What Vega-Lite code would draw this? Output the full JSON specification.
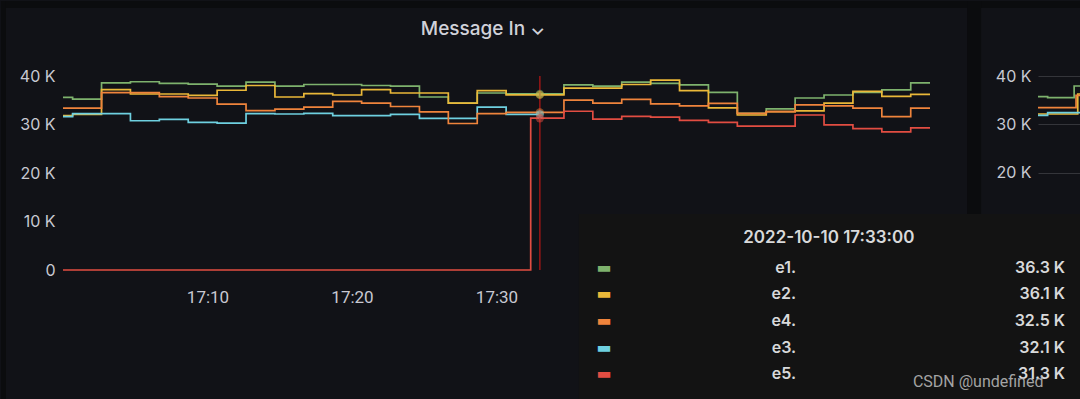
{
  "$schema": "https://vega.github.io/schema/vega-lite/v6.json",
  "autosize": {"type": "pad"},
  "padding": 0,
  "background": "#111217",
  "bounds": "flush",
  "spacing": 108,
  "config": {
    "view": {"stroke": null},
    "axis": {"labelFont": "Inter", "labelColor": "#c8c9d2", "labelFontSize": 16, "gridColor": "#34353a", "gridWidth": 1, "domain": false, "ticks": false, "title": null, "zindex": 0}
  },
  "datasets": {
    "series": [
      {"t": "2022-10-10T17:00:00", "s": "e1", "v": 35600},
      {"t": "2022-10-10T17:00:40", "s": "e1", "v": 35250},
      {"t": "2022-10-10T17:02:40", "s": "e1", "v": 38600},
      {"t": "2022-10-10T17:04:40", "s": "e1", "v": 38810},
      {"t": "2022-10-10T17:06:40", "s": "e1", "v": 38460},
      {"t": "2022-10-10T17:08:40", "s": "e1", "v": 38320},
      {"t": "2022-10-10T17:10:40", "s": "e1", "v": 37900},
      {"t": "2022-10-10T17:12:40", "s": "e1", "v": 38740},
      {"t": "2022-10-10T17:14:40", "s": "e1", "v": 37900},
      {"t": "2022-10-10T17:16:40", "s": "e1", "v": 38250},
      {"t": "2022-10-10T17:18:40", "s": "e1", "v": 38250},
      {"t": "2022-10-10T17:20:40", "s": "e1", "v": 38040},
      {"t": "2022-10-10T17:22:40", "s": "e1", "v": 37900},
      {"t": "2022-10-10T17:24:40", "s": "e1", "v": 35670},
      {"t": "2022-10-10T17:26:40", "s": "e1", "v": 34410},
      {"t": "2022-10-10T17:28:40", "s": "e1", "v": 36500},
      {"t": "2022-10-10T17:30:40", "s": "e1", "v": 36300},
      {"t": "2022-10-10T17:32:40", "s": "e1", "v": 36300},
      {"t": "2022-10-10T17:34:40", "s": "e1", "v": 38180},
      {"t": "2022-10-10T17:36:40", "s": "e1", "v": 37900},
      {"t": "2022-10-10T17:38:40", "s": "e1", "v": 38740},
      {"t": "2022-10-10T17:40:40", "s": "e1", "v": 38460},
      {"t": "2022-10-10T17:42:40", "s": "e1", "v": 38180},
      {"t": "2022-10-10T17:44:40", "s": "e1", "v": 36640},
      {"t": "2022-10-10T17:46:40", "s": "e1", "v": 32310},
      {"t": "2022-10-10T17:48:40", "s": "e1", "v": 33220},
      {"t": "2022-10-10T17:50:40", "s": "e1", "v": 35460},
      {"t": "2022-10-10T17:52:40", "s": "e1", "v": 36080},
      {"t": "2022-10-10T17:54:40", "s": "e1", "v": 36640},
      {"t": "2022-10-10T17:56:40", "s": "e1", "v": 37130},
      {"t": "2022-10-10T17:58:40", "s": "e1", "v": 38600},
      {"t": "2022-10-10T18:00:00", "s": "e1", "v": 38600},

      {"t": "2022-10-10T17:00:00", "s": "e2", "v": 31820},
      {"t": "2022-10-10T17:00:40", "s": "e2", "v": 32100},
      {"t": "2022-10-10T17:02:40", "s": "e2", "v": 37200},
      {"t": "2022-10-10T17:04:40", "s": "e2", "v": 36290},
      {"t": "2022-10-10T17:06:40", "s": "e2", "v": 36290},
      {"t": "2022-10-10T17:08:40", "s": "e2", "v": 36010},
      {"t": "2022-10-10T17:10:40", "s": "e2", "v": 37060},
      {"t": "2022-10-10T17:12:40", "s": "e2", "v": 38040},
      {"t": "2022-10-10T17:14:40", "s": "e2", "v": 35670},
      {"t": "2022-10-10T17:16:40", "s": "e2", "v": 36360},
      {"t": "2022-10-10T17:18:40", "s": "e2", "v": 36080},
      {"t": "2022-10-10T17:20:40", "s": "e2", "v": 37200},
      {"t": "2022-10-10T17:22:40", "s": "e2", "v": 36500},
      {"t": "2022-10-10T17:24:40", "s": "e2", "v": 36500},
      {"t": "2022-10-10T17:26:40", "s": "e2", "v": 34410},
      {"t": "2022-10-10T17:28:40", "s": "e2", "v": 36990},
      {"t": "2022-10-10T17:30:40", "s": "e2", "v": 36100},
      {"t": "2022-10-10T17:32:40", "s": "e2", "v": 36100},
      {"t": "2022-10-10T17:34:40", "s": "e2", "v": 37480},
      {"t": "2022-10-10T17:36:40", "s": "e2", "v": 37480},
      {"t": "2022-10-10T17:38:40", "s": "e2", "v": 38250},
      {"t": "2022-10-10T17:40:40", "s": "e2", "v": 39160},
      {"t": "2022-10-10T17:42:40", "s": "e2", "v": 36990},
      {"t": "2022-10-10T17:44:40", "s": "e2", "v": 33430},
      {"t": "2022-10-10T17:46:40", "s": "e2", "v": 31960},
      {"t": "2022-10-10T17:48:40", "s": "e2", "v": 32660},
      {"t": "2022-10-10T17:50:40", "s": "e2", "v": 32800},
      {"t": "2022-10-10T17:52:40", "s": "e2", "v": 34410},
      {"t": "2022-10-10T17:54:40", "s": "e2", "v": 36850},
      {"t": "2022-10-10T17:56:40", "s": "e2", "v": 35810},
      {"t": "2022-10-10T17:58:40", "s": "e2", "v": 36220},
      {"t": "2022-10-10T18:00:00", "s": "e2", "v": 36220},

      {"t": "2022-10-10T17:00:00", "s": "e3", "v": 31610},
      {"t": "2022-10-10T17:00:40", "s": "e3", "v": 32240},
      {"t": "2022-10-10T17:02:40", "s": "e3", "v": 32240},
      {"t": "2022-10-10T17:04:40", "s": "e3", "v": 30770},
      {"t": "2022-10-10T17:06:40", "s": "e3", "v": 31050},
      {"t": "2022-10-10T17:08:40", "s": "e3", "v": 30420},
      {"t": "2022-10-10T17:10:40", "s": "e3", "v": 30280},
      {"t": "2022-10-10T17:12:40", "s": "e3", "v": 32240},
      {"t": "2022-10-10T17:14:40", "s": "e3", "v": 32170},
      {"t": "2022-10-10T17:16:40", "s": "e3", "v": 32310},
      {"t": "2022-10-10T17:18:40", "s": "e3", "v": 31820},
      {"t": "2022-10-10T17:20:40", "s": "e3", "v": 31820},
      {"t": "2022-10-10T17:22:40", "s": "e3", "v": 32100},
      {"t": "2022-10-10T17:24:40", "s": "e3", "v": 31260},
      {"t": "2022-10-10T17:26:40", "s": "e3", "v": 31260},
      {"t": "2022-10-10T17:28:40", "s": "e3", "v": 33570},
      {"t": "2022-10-10T17:30:40", "s": "e3", "v": 32100},
      {"t": "2022-10-10T17:33:00", "s": "e3", "v": 32100},

      {"t": "2022-10-10T17:00:00", "s": "e4", "v": 33360},
      {"t": "2022-10-10T17:00:40", "s": "e4", "v": 33360},
      {"t": "2022-10-10T17:02:40", "s": "e4", "v": 36570},
      {"t": "2022-10-10T17:04:40", "s": "e4", "v": 36570},
      {"t": "2022-10-10T17:06:40", "s": "e4", "v": 35740},
      {"t": "2022-10-10T17:08:40", "s": "e4", "v": 35460},
      {"t": "2022-10-10T17:10:40", "s": "e4", "v": 34200},
      {"t": "2022-10-10T17:12:40", "s": "e4", "v": 32870},
      {"t": "2022-10-10T17:14:40", "s": "e4", "v": 33150},
      {"t": "2022-10-10T17:16:40", "s": "e4", "v": 33570},
      {"t": "2022-10-10T17:18:40", "s": "e4", "v": 34760},
      {"t": "2022-10-10T17:20:40", "s": "e4", "v": 34410},
      {"t": "2022-10-10T17:22:40", "s": "e4", "v": 33710},
      {"t": "2022-10-10T17:24:40", "s": "e4", "v": 32590},
      {"t": "2022-10-10T17:26:40", "s": "e4", "v": 30210},
      {"t": "2022-10-10T17:28:40", "s": "e4", "v": 32240},
      {"t": "2022-10-10T17:30:40", "s": "e4", "v": 32500},
      {"t": "2022-10-10T17:32:40", "s": "e4", "v": 32500},
      {"t": "2022-10-10T17:34:40", "s": "e4", "v": 35040},
      {"t": "2022-10-10T17:36:40", "s": "e4", "v": 34410},
      {"t": "2022-10-10T17:38:40", "s": "e4", "v": 35180},
      {"t": "2022-10-10T17:40:40", "s": "e4", "v": 34270},
      {"t": "2022-10-10T17:42:40", "s": "e4", "v": 33850},
      {"t": "2022-10-10T17:44:40", "s": "e4", "v": 34340},
      {"t": "2022-10-10T17:46:40", "s": "e4", "v": 32310},
      {"t": "2022-10-10T17:48:40", "s": "e4", "v": 32660},
      {"t": "2022-10-10T17:50:40", "s": "e4", "v": 34060},
      {"t": "2022-10-10T17:52:40", "s": "e4", "v": 33850},
      {"t": "2022-10-10T17:54:40", "s": "e4", "v": 33360},
      {"t": "2022-10-10T17:56:40", "s": "e4", "v": 31610},
      {"t": "2022-10-10T17:58:40", "s": "e4", "v": 33360},
      {"t": "2022-10-10T18:00:00", "s": "e4", "v": 33360},

      {"t": "2022-10-10T17:00:00", "s": "e5", "v": 0},
      {"t": "2022-10-10T17:32:22", "s": "e5", "v": 31300},
      {"t": "2022-10-10T17:34:40", "s": "e5", "v": 32730},
      {"t": "2022-10-10T17:36:40", "s": "e5", "v": 31120},
      {"t": "2022-10-10T17:38:40", "s": "e5", "v": 31680},
      {"t": "2022-10-10T17:40:40", "s": "e5", "v": 31540},
      {"t": "2022-10-10T17:42:40", "s": "e5", "v": 30840},
      {"t": "2022-10-10T17:44:40", "s": "e5", "v": 30420},
      {"t": "2022-10-10T17:46:40", "s": "e5", "v": 29650},
      {"t": "2022-10-10T17:48:40", "s": "e5", "v": 29650},
      {"t": "2022-10-10T17:50:40", "s": "e5", "v": 31960},
      {"t": "2022-10-10T17:52:40", "s": "e5", "v": 29930},
      {"t": "2022-10-10T17:54:40", "s": "e5", "v": 29160},
      {"t": "2022-10-10T17:56:40", "s": "e5", "v": 28460},
      {"t": "2022-10-10T17:58:40", "s": "e5", "v": 29300},
      {"t": "2022-10-10T18:00:00", "s": "e5", "v": 29300}
    ],
    "series2": [
      {"t": "2022-10-10T17:00:00", "s": "e1", "v": 35730},
      {"t": "2022-10-10T17:00:40", "s": "e1", "v": 35530},
      {"t": "2022-10-10T17:02:30", "s": "e1", "v": 37940},
      {"t": "2022-10-10T17:03:00", "s": "e1", "v": 37940},
      {"t": "2022-10-10T17:00:00", "s": "e2", "v": 32170},
      {"t": "2022-10-10T17:02:45", "s": "e2", "v": 36290},
      {"t": "2022-10-10T17:03:00", "s": "e2", "v": 36290},
      {"t": "2022-10-10T17:00:00", "s": "e3", "v": 31900},
      {"t": "2022-10-10T17:00:40", "s": "e3", "v": 32430},
      {"t": "2022-10-10T17:03:00", "s": "e3", "v": 32430},
      {"t": "2022-10-10T17:00:00", "s": "e4", "v": 33470},
      {"t": "2022-10-10T17:02:38", "s": "e4", "v": 36000},
      {"t": "2022-10-10T17:03:00", "s": "e4", "v": 36000}
    ],
    "hover": [
      {"t": "2022-10-10T17:33:00", "s": "e1", "name": "e1.", "v": 36300, "label": "36.3 K", "rank": 0},
      {"t": "2022-10-10T17:33:00", "s": "e2", "name": "e2.", "v": 36100, "label": "36.1 K", "rank": 1},
      {"t": "2022-10-10T17:33:00", "s": "e4", "name": "e4.", "v": 32500, "label": "32.5 K", "rank": 2},
      {"t": "2022-10-10T17:33:00", "s": "e3", "name": "e3.", "v": 32100, "label": "32.1 K", "rank": 3},
      {"t": "2022-10-10T17:33:00", "s": "e5", "name": "e5.", "v": 31300, "label": "31.3 K", "rank": 4}
    ]
  },
  "hconcat": [
    {
      "width": 867,
      "height": 194,
      "encoding": {
        "x": {"type": "temporal",
          "scale": {"domain": [{"year": 2022, "month": 10, "date": 10, "hours": 17, "minutes": 0}, {"year": 2022, "month": 10, "date": 10, "hours": 18, "minutes": 0}]},
          "axis": {"format": "%H:%M", "labelFont": "Roboto", "labelFontSize": 17, "labelPadding": 19, "labelFlush": false, "labelOverlap": false,
            "labelExpr": "hours(datum.value) >= 18 || minutes(datum.value) >= 35 ? '' : datum.label",
            "values": [
              {"year": 2022, "month": 10, "date": 10, "hours": 17, "minutes": 10},
              {"year": 2022, "month": 10, "date": 10, "hours": 17, "minutes": 20},
              {"year": 2022, "month": 10, "date": 10, "hours": 17, "minutes": 30},
              {"year": 2022, "month": 10, "date": 10, "hours": 17, "minutes": 40},
              {"year": 2022, "month": 10, "date": 10, "hours": 17, "minutes": 50},
              {"year": 2022, "month": 10, "date": 10, "hours": 18, "minutes": 0}]}},
        "y": {"type": "quantitative",
          "scale": {"domain": [0, 40000], "nice": false},
          "axis": {"values": [0, 10000, 20000, 30000, 40000], "labelPadding": 8, "labelExpr": "datum.value == 0 ? '0' : (datum.value / 1000) + ' K'"}}
      },
      "layer": [
        {
          "data": {"values": [{}]},
          "mark": {"type": "rect", "color": "#0b0c0e", "clip": false},
          "encoding": {
            "x": {"datum": {"year": 2022, "month": 10, "date": 10, "hours": 16, "minutes": 55, "seconds": 42, "milliseconds": 560}},
            "x2": {"datum": {"year": 2022, "month": 10, "date": 10, "hours": 18, "minutes": 10, "seconds": 27}},
            "y": {"datum": 55464},
            "y2": {"datum": 54021}
          }
        },
        {
          "data": {"values": [{}]},
          "mark": {"type": "rect", "color": "#0b0c0e", "clip": false},
          "encoding": {
            "x": {"datum": {"year": 2022, "month": 10, "date": 10, "hours": 16, "minutes": 55, "seconds": 42, "milliseconds": 560}},
            "x2": {"datum": {"year": 2022, "month": 10, "date": 10, "hours": 16, "minutes": 56, "seconds": 3}},
            "y": {"datum": 55464},
            "y2": {"datum": -26804}
          }
        },
        {
          "data": {"values": [{}]},
          "mark": {"type": "rect", "color": "#0b0c0e", "clip": false},
          "encoding": {
            "x": {"datum": {"year": 2022, "month": 10, "date": 10, "hours": 18, "minutes": 2, "seconds": 34}},
            "x2": {"datum": {"year": 2022, "month": 10, "date": 10, "hours": 18, "minutes": 3, "seconds": 32}},
            "y": {"datum": 55464},
            "y2": {"datum": -26804}
          }
        },
        {
          "data": {"values": [{"title": "Message In  \u2304"}]},
          "mark": {"type": "text", "font": "Inter", "fontSize": 19, "fontWeight": 500, "color": "#d0d1d9", "align": "center", "baseline": "middle", "dy": -47},
          "encoding": {
            "x": {"datum": {"year": 2022, "month": 10, "date": 10, "hours": 17, "minutes": 29, "seconds": 4}},
            "y": {"datum": 40000},
            "text": {"field": "title"}
          }
        },
        {
          "data": {"name": "series"},
          "mark": {"type": "line", "interpolate": "step-after", "strokeWidth": 1.7},
          "encoding": {
            "x": {"field": "t", "type": "temporal"},
            "y": {"field": "v", "type": "quantitative"},
            "color": {"field": "s", "type": "nominal", "legend": null,
              "scale": {"domain": ["e1", "e2", "e3", "e4", "e5"], "range": ["#7EB26D", "#EAB839", "#6ED0E0", "#EF843C", "#E24D42"]}}
          }
        },
        {
          "data": {"values": [{}]},
          "mark": {"type": "rule", "color": "#9a1616", "strokeWidth": 1.5},
          "encoding": {"x": {"datum": {"year": 2022, "month": 10, "date": 10, "hours": 17, "minutes": 33}}}
        },
        {
          "data": {"name": "hover"},
          "mark": {"type": "point", "filled": true, "size": 70, "opacity": 0.5},
          "encoding": {
            "x": {"field": "t", "type": "temporal"},
            "y": {"field": "v", "type": "quantitative"},
            "color": {"field": "s", "type": "nominal", "legend": null}
          }
        },
        {
          "data": {"values": [{}]},
          "mark": {"type": "rect", "color": "#131313", "clip": false},
          "encoding": {
            "x": {"datum": {"year": 2022, "month": 10, "date": 10, "hours": 17, "minutes": 35, "seconds": 42}},
            "x2": {"datum": {"year": 2022, "month": 10, "date": 10, "hours": 18, "minutes": 10, "seconds": 27}},
            "y": {"datum": 11546},
            "y2": {"datum": -26804}
          }
        },
        {
          "data": {"name": "hover"},
          "transform": [{"filter": "datum.rank == 0"}],
          "mark": {"type": "text", "font": "Inter", "fontSize": 17, "fontWeight": 600, "color": "#d8d9da", "align": "center", "baseline": "middle", "dy": -32},
          "encoding": {
            "x": {"datum": {"year": 2022, "month": 10, "date": 10, "hours": 17, "minutes": 53}},
            "y": {"datum": 0},
            "text": {"field": "t", "type": "temporal", "format": "%Y-%m-%d %H:%M:%S"}
          }
        },
        {
          "data": {"name": "hover"},
          "mark": {"type": "text", "font": "DejaVu Sans", "fontSize": 16, "align": "center", "baseline": "middle", "text": "\u25ac", "dy": {"expr": "datum.rank * 26.67 - 2.3"}},
          "encoding": {
            "x": {"datum": {"year": 2022, "month": 10, "date": 10, "hours": 17, "minutes": 37, "seconds": 26}},
            "y": {"datum": 0},
            "color": {"field": "s", "type": "nominal", "legend": null}
          }
        },
        {
          "data": {"name": "hover"},
          "mark": {"type": "text", "font": "Inter", "fontSize": 16, "fontWeight": 600, "color": "#d8d9da", "align": "right", "baseline": "middle", "dy": {"expr": "datum.rank * 26.67 - 2.3"}},
          "encoding": {
            "x": {"datum": {"year": 2022, "month": 10, "date": 10, "hours": 17, "minutes": 50, "seconds": 44}},
            "y": {"datum": 0},
            "text": {"field": "name"}
          }
        },
        {
          "data": {"name": "hover"},
          "mark": {"type": "text", "font": "Inter", "fontSize": 16, "fontWeight": 600, "color": "#d8d9da", "align": "right", "baseline": "middle", "dy": {"expr": "datum.rank * 26.67 - 2.3"}},
          "encoding": {
            "x": {"datum": {"year": 2022, "month": 10, "date": 10, "hours": 18, "minutes": 9, "seconds": 21}},
            "y": {"datum": 0},
            "text": {"field": "label"}
          }
        },
        {
          "data": {"values": [{}]},
          "mark": {"type": "text", "font": "Roboto", "fontSize": 16, "color": "#b4b4b4", "opacity": 0.9, "align": "left", "baseline": "middle", "text": "CSDN @undefined", "dy": 112},
          "encoding": {
            "x": {"datum": {"year": 2022, "month": 10, "date": 10, "hours": 17, "minutes": 58, "seconds": 49}},
            "y": {"datum": 0}
          }
        }
      ]
    },
    {
      "width": 43,
      "height": 138,
      "data": {"name": "series2"},
      "mark": {"type": "line", "interpolate": "step-after", "strokeWidth": 1.7, "clip": true},
      "encoding": {
        "x": {"field": "t", "type": "temporal", "axis": null,
          "scale": {"domain": [{"year": 2022, "month": 10, "date": 10, "hours": 17, "minutes": 0}, {"year": 2022, "month": 10, "date": 10, "hours": 17, "minutes": 2, "seconds": 58, "milliseconds": 500}]}},
        "y": {"field": "v", "type": "quantitative",
          "scale": {"domain": [11546, 40000], "nice": false, "zero": false},
          "axis": {"values": [20000, 30000, 40000], "labelPadding": 7, "labelExpr": "(datum.value / 1000) + ' K'"}},
        "color": {"field": "s", "type": "nominal", "legend": null}
      }
    }
  ]
}
